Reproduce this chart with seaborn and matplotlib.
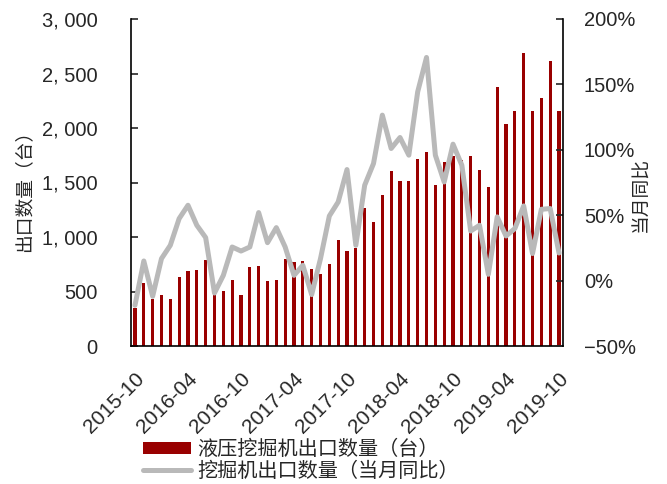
import numpy as np
import pandas as pd
import matplotlib
matplotlib.use("Agg")
import matplotlib.pyplot as plt
import matplotlib.ticker as mticker
from matplotlib.patches import Patch
from matplotlib.lines import Line2D
import seaborn as sns

# ---- data ----
months = pd.period_range("2015-10", "2019-10", freq="M").strftime("%Y-%m").tolist()
export_units = [352, 578, 435, 465, 435, 633, 691, 694, 789, 480,
                508, 602, 468, 725, 737, 596, 609, 801, 770, 780,
                710, 657, 755, 969, 871, 900, 1269, 1137, 1382, 1602,
                1517, 1517, 1718, 1782, 1480, 1684, 1740, 1709, 1746, 1611,
                1458, 2372, 2033, 2152, 2690, 2152, 2271, 2613, 2152]
yoy_pct = [-18.9, 15.0, -12.0, 16.8, 27.0, 47.4, 57.6, 42.3, 32.9, -9.5,
           4.0, 25.7, 22.6, 25.7, 52.0, 29.0, 40.5, 25.7, 4.0, 11.7,
           -10.7, 16.8, 49.4, 60.1, 84.9, 27.0, 72.9, 89.5, 126.5, 101.0,
           109.4, 95.9, 144.3, 170.6, 95.9, 75.4, 104.3, 88.2, 37.9, 42.3,
           4.8, 48.7, 34.1, 39.8, 57.1, 20.7, 54.5, 55.1, 21.1]
bar_label = "液压挖掘机出口数量（台）"
line_label = "挖掘机出口数量（当月同比）"
left_ylabel = "出口数量（台）"
right_ylabel = "当月同比"

BAR_COLOR = "#990000"
LINE_COLOR = "#B9B9B9"

sns.set_style("white")
plt.rcParams["font.family"] = ["Liberation Sans", "Noto Sans CJK SC"]
plt.rcParams["axes.unicode_minus"] = True

df = pd.DataFrame({"month": months, "units": export_units, "yoy": yoy_pct})

W, H = 667, 484
fig = plt.figure(figsize=(W / 100, H / 100), dpi=100)
ax = fig.add_axes([131 / W, 1 - 346 / H, 432 / W, 327 / H])

sns.barplot(data=df, x="month", y="units", color=BAR_COLOR, saturation=1,
            width=0.36, ax=ax, zorder=2, linewidth=0)
ax2 = ax.twinx()
sns.lineplot(data=df, x="month", y="yoy", color=LINE_COLOR, lw=3.6, ax=ax2,
             sort=False, solid_joinstyle="round", solid_capstyle="round")

n = len(months)
ax.set_xlim(-0.45, n - 1 + 0.45)
ax2.set_xlim(-0.45, n - 1 + 0.45)

# left axis
ax.set_ylim(0, 3000)
ax.set_yticks(np.arange(0, 3001, 500))
ax.yaxis.set_major_formatter(mticker.FuncFormatter(
    lambda v, p: f"{int(v):,}".replace(",", ", ")))
# right axis
ax2.set_ylim(-50, 200)
ax2.set_yticks(np.arange(-50, 201, 50))
ax2.yaxis.set_major_formatter(mticker.FuncFormatter(
    lambda v, p: f"{int(v)}%".replace("-", "\u2212")))

# x ticks
ticks = list(range(0, n, 6))
ax.set_xticks(ticks)
ax.set_xticklabels([months[i] for i in ticks], rotation=45, ha="right",
                   rotation_mode="anchor", fontsize=15)
ax.tick_params(axis="x", length=0, pad=17)
ax2.tick_params(axis="x", length=0)

ax.tick_params(axis="y", direction="in", length=5, width=1.2, pad=24,
               labelsize=14.5, left=True)
ax2.tick_params(axis="y", direction="in", length=5, width=1.2, pad=15,
                labelsize=14.5, right=True)

ax.set_xlabel("")
ax.set_ylabel(left_ylabel, fontsize=13.5)
ax.yaxis.set_label_coords((33 - 131) / 432, (346 - 186) / 327)
ax2.set_ylabel(right_ylabel, fontsize=13.5)
ax2.yaxis.set_label_coords((633 - 131) / 432, (346 - 195) / 327)
ax2.yaxis.label.set_rotation(90)
ax2.yaxis.label.set_rotation_mode("anchor")
ax2.yaxis.label.set_verticalalignment("top")
ax2.yaxis.label.set_horizontalalignment("center")

for a in (ax, ax2):
    a.spines["top"].set_visible(False)
    for s in ("left", "right", "bottom"):
        a.spines[s].set_linewidth(1.2)
        a.spines[s].set_color("black")
    a.grid(False)
ax.spines["right"].set_visible(False)
ax2.spines["left"].set_visible(False)
ax2.spines["bottom"].set_visible(False)

handles = [Patch(facecolor=BAR_COLOR, edgecolor="none"),
           Line2D([], [], color=LINE_COLOR, lw=3.6, solid_capstyle="round")]
fig.legend(handles, [bar_label, line_label], loc="upper left",
           bbox_to_anchor=(143 / W, 1 - 440 / H), frameon=False,
           fontsize=14.5, handlelength=2.4, handleheight=0.5,
           handletextpad=0.3, labelspacing=0.12, borderpad=0,
           borderaxespad=0)

fig.savefig("out.png", dpi=100)
